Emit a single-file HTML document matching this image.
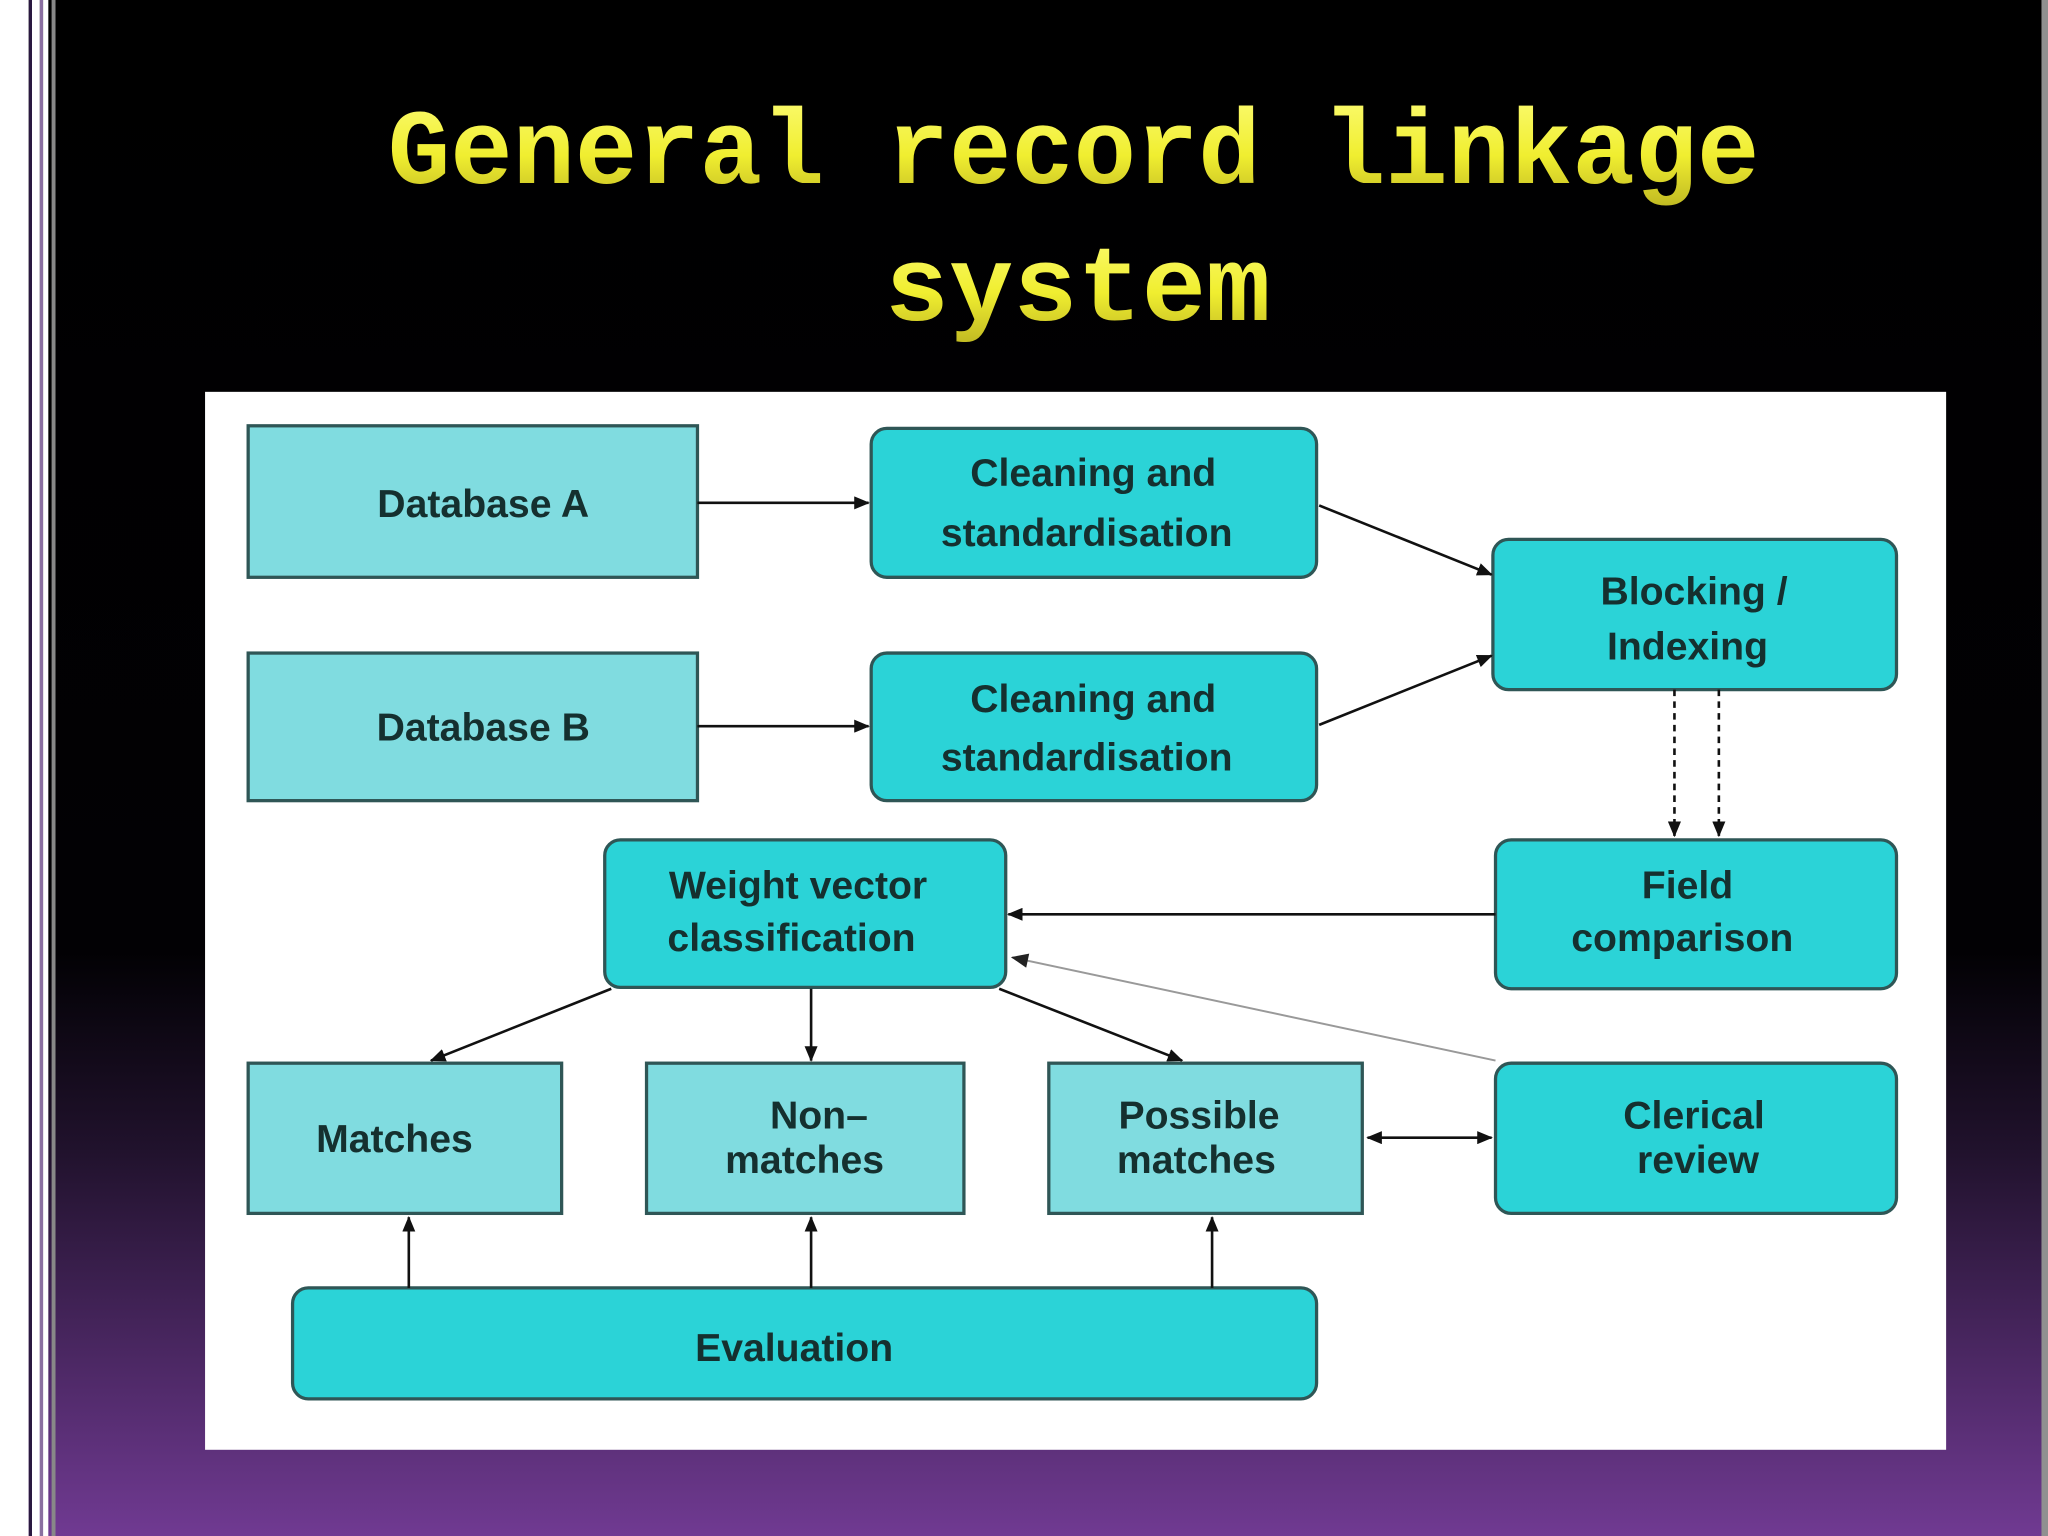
<!DOCTYPE html>
<html><head><meta charset="utf-8"><style>
html,body{margin:0;padding:0;width:2048px;height:1536px;overflow:hidden;background:#000}
svg{display:block}
</style></head><body>
<svg width="2048" height="1536" viewBox="0 0 1568 1176" xmlns="http://www.w3.org/2000/svg">
<defs>
<linearGradient id="bg" x1="0" y1="0" x2="0" y2="1">
<stop offset="0" stop-color="#000"/><stop offset="0.62" stop-color="#020104"/>
<stop offset="0.75" stop-color="#21122d"/><stop offset="1" stop-color="#703a92"/>
</linearGradient>
<linearGradient id="ty" x1="0" y1="0" x2="0" y2="1">
<stop offset="0" stop-color="#fbfb70"/><stop offset="0.5" stop-color="#f0ee30"/><stop offset="1" stop-color="#b8b020"/>
</linearGradient>
<marker id="ah" viewBox="0 0 12 10" refX="11" refY="5" markerWidth="12" markerHeight="10" markerUnits="userSpaceOnUse" orient="auto-start-reverse">
<path d="M0,0 L12,5 L0,10 Z" fill="#111"/></marker>
<marker id="ahg" viewBox="0 0 12 10" refX="11" refY="5" markerWidth="14" markerHeight="11" markerUnits="userSpaceOnUse" orient="auto">
<path d="M0,0 L12,5 L0,10 Z" fill="#222"/></marker>
</defs>
<rect width="1568" height="1176" fill="url(#bg)"/>
<rect x="0" y="0" width="22" height="1176" fill="#fff"/>
<rect x="22" y="0" width="2.5" height="1176" fill="#2a1840"/>
<rect x="24.5" y="0" width="6" height="1176" fill="#fff"/>
<rect x="30.5" y="0" width="2.5" height="1176" fill="#8a6fa0"/>
<rect x="33" y="0" width="4" height="1176" fill="#fff"/>
<rect x="39.5" y="0" width="3" height="1176" fill="#888"/>
<rect x="1563" y="0" width="5" height="1176" fill="#909090"/>
<g font-family="Liberation Mono, monospace" font-weight="bold" font-size="82" fill="url(#ty)" text-anchor="middle">
<text x="822" y="140" textLength="1050" lengthAdjust="spacingAndGlyphs">General record linkage</text>
<text x="825" y="245">system</text>
</g>
<rect x="157" y="300" width="1333" height="810" fill="#fff"/>
<g stroke="#2f5656" stroke-width="2.5">
<rect x="190" y="326" width="344" height="116" fill="#80dce0"/>
<rect x="190" y="500" width="344" height="113" fill="#80dce0"/>
<rect x="190" y="814" width="240" height="115" fill="#80dce0"/>
<rect x="495" y="814" width="243" height="115" fill="#80dce0"/>
<rect x="803" y="814" width="240" height="115" fill="#80dce0"/>
<g fill="#2bd3d7">
<rect x="667" y="328" width="341" height="114" rx="12"/>
<rect x="667" y="500" width="341" height="113" rx="12"/>
<rect x="1143" y="413" width="309" height="115" rx="12"/>
<rect x="1145" y="643" width="307" height="114" rx="12"/>
<rect x="463" y="643" width="307" height="113" rx="12"/>
<rect x="1145" y="814" width="307" height="115" rx="12"/>
<rect x="224" y="986" width="784" height="85" rx="12"/>
</g></g>
<g font-family="Liberation Sans, sans-serif" font-weight="bold" font-size="30" fill="#15302f" text-anchor="middle">
<text x="370" y="396">Database A</text>
<text x="370" y="567">Database B</text>
<text x="837" y="372">Cleaning and</text><text x="832" y="418">standardisation</text>
<text x="837" y="545">Cleaning and</text><text x="832" y="590">standardisation</text>
<text x="1297" y="463">Blocking /</text><text x="1292" y="505">Indexing</text>
<text x="1292" y="688">Field</text><text x="1288" y="728">comparison</text>
<text x="611" y="688">Weight vector</text><text x="606" y="728">classification</text>
<text x="302" y="882">Matches</text>
<text x="627" y="864">Non–</text><text x="616" y="898">matches</text>
<text x="918" y="864">Possible</text><text x="916" y="898">matches</text>
<text x="1297" y="864">Clerical</text><text x="1300" y="898">review</text>
<text x="608" y="1042">Evaluation</text>
</g>
<g stroke="#111" stroke-width="2" fill="none">
<line x1="534" y1="385" x2="665" y2="385" marker-end="url(#ah)"/>
<line x1="534" y1="556" x2="665" y2="556" marker-end="url(#ah)"/>
<line x1="1010" y1="387" x2="1142" y2="440" marker-end="url(#ah)"/>
<line x1="1010" y1="555" x2="1142" y2="502" marker-end="url(#ah)"/>
<line x1="1282" y1="528" x2="1282" y2="640" stroke-dasharray="5,4" marker-end="url(#ah)"/>
<line x1="1316" y1="528" x2="1316" y2="640" stroke-dasharray="5,4" marker-end="url(#ah)"/>
<line x1="1145" y1="700" x2="772" y2="700" marker-end="url(#ah)"/>
<line x1="1145" y1="812" x2="775" y2="733" stroke="#999" stroke-width="1.5" marker-end="url(#ahg)"/>
<line x1="468" y1="757" x2="330" y2="812" marker-end="url(#ah)"/>
<line x1="621" y1="757" x2="621" y2="812" marker-end="url(#ah)"/>
<line x1="765" y1="757" x2="905" y2="812" marker-end="url(#ah)"/>
<line x1="1047" y1="871" x2="1142" y2="871" marker-start="url(#ah)" marker-end="url(#ah)"/>
<line x1="313" y1="986" x2="313" y2="932" marker-end="url(#ah)"/>
<line x1="621" y1="986" x2="621" y2="932" marker-end="url(#ah)"/>
<line x1="928" y1="986" x2="928" y2="932" marker-end="url(#ah)"/>
</g>
</svg>
</body></html>
